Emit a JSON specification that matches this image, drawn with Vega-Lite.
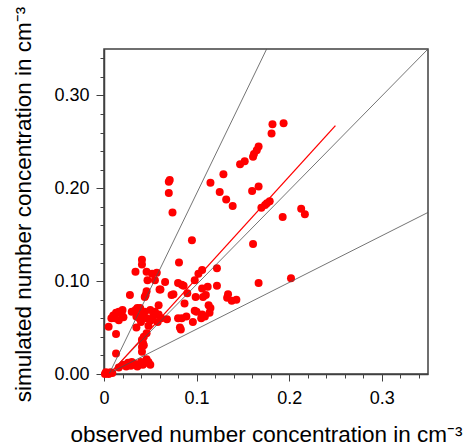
{
  "$schema": "https://vega.github.io/schema/vega-lite/v6.json",
  "autosize": {"type": "none"},
  "width": 324,
  "height": 325,
  "padding": {"left": 104, "top": 49, "right": 37, "bottom": 71},
  "background": "white",
  "config": {
    "font": "Liberation Sans",
    "view": {"stroke": "#404040", "strokeWidth": 1.5},
    "axis": {
      "domainColor": "#404040",
      "domainWidth": 1.5,
      "tickColor": "#404040",
      "tickWidth": 1,
      "grid": false,
      "labelOverlap": false,
      "labelFlush": false,
      "labelFont": "Liberation Sans",
      "labelFontSize": 18,
      "labelColor": "black",
      "titleFont": "Liberation Sans",
      "titleFontSize": 22.5,
      "titleFontWeight": "normal",
      "titleColor": "black"
    }
  },
  "datasets": {
    "pts": [
      {"obs": 0.182, "sim": 0.269}, {"obs": 0.194, "sim": 0.270}, {"obs": 0.181, "sim": 0.259},
      {"obs": 0.167, "sim": 0.245}, {"obs": 0.165, "sim": 0.241}, {"obs": 0.162, "sim": 0.237},
      {"obs": 0.161, "sim": 0.234}, {"obs": 0.152, "sim": 0.229}, {"obs": 0.147, "sim": 0.226},
      {"obs": 0.129, "sim": 0.215}, {"obs": 0.115, "sim": 0.206}, {"obs": 0.125, "sim": 0.196},
      {"obs": 0.132, "sim": 0.188}, {"obs": 0.139, "sim": 0.181}, {"obs": 0.160, "sim": 0.197},
      {"obs": 0.167, "sim": 0.202}, {"obs": 0.170, "sim": 0.179}, {"obs": 0.174, "sim": 0.182},
      {"obs": 0.176, "sim": 0.184}, {"obs": 0.179, "sim": 0.186}, {"obs": 0.193, "sim": 0.169},
      {"obs": 0.213, "sim": 0.178}, {"obs": 0.217, "sim": 0.172}, {"obs": 0.161, "sim": 0.140},
      {"obs": 0.122, "sim": 0.114}, {"obs": 0.070, "sim": 0.207}, {"obs": 0.071, "sim": 0.209},
      {"obs": 0.070, "sim": 0.195}, {"obs": 0.074, "sim": 0.174}, {"obs": 0.095, "sim": 0.144},
      {"obs": 0.081, "sim": 0.120}, {"obs": 0.041, "sim": 0.123}, {"obs": 0.041, "sim": 0.118},
      {"obs": 0.167, "sim": 0.098}, {"obs": 0.202, "sim": 0.103},
      {"obs": 0.112, "sim": 0.094}, {"obs": 0.122, "sim": 0.095}, {"obs": 0.106, "sim": 0.092},
      {"obs": 0.134, "sim": 0.086}, {"obs": 0.133, "sim": 0.082}, {"obs": 0.138, "sim": 0.079},
      {"obs": 0.143, "sim": 0.080}, {"obs": 0.113, "sim": 0.074}, {"obs": 0.115, "sim": 0.071},
      {"obs": 0.114, "sim": 0.066}, {"obs": 0.109, "sim": 0.062}, {"obs": 0.106, "sim": 0.064},
      {"obs": 0.106, "sim": 0.112}, {"obs": 0.107, "sim": 0.083}, {"obs": 0.102, "sim": 0.108},
      {"obs": 0.098, "sim": 0.101}, {"obs": 0.034, "sim": 0.110}, {"obs": 0.046, "sim": 0.110},
      {"obs": 0.052, "sim": 0.108}, {"obs": 0.057, "sim": 0.109}, {"obs": 0.047, "sim": 0.101},
      {"obs": 0.055, "sim": 0.101}, {"obs": 0.066, "sim": 0.099}, {"obs": 0.080, "sim": 0.098},
      {"obs": 0.084, "sim": 0.096}, {"obs": 0.086, "sim": 0.095}, {"obs": 0.060, "sim": 0.091},
      {"obs": 0.075, "sim": 0.086}, {"obs": 0.028, "sim": 0.085}, {"obs": 0.045, "sim": 0.085},
      {"obs": 0.046, "sim": 0.089}, {"obs": 0.044, "sim": 0.083}, {"obs": 0.061, "sim": 0.091},
      {"obs": 0.073, "sim": 0.085}, {"obs": 0.090, "sim": 0.087}, {"obs": 0.099, "sim": 0.083},
      {"obs": 0.110, "sim": 0.085}, {"obs": 0.087, "sim": 0.076}, {"obs": 0.059, "sim": 0.074},
      {"obs": 0.036, "sim": 0.071}, {"obs": 0.030, "sim": 0.067}, {"obs": 0.098, "sim": 0.068},
      {"obs": 0.100, "sim": 0.067}, {"obs": 0.080, "sim": 0.060}, {"obs": 0.084, "sim": 0.060},
      {"obs": 0.089, "sim": 0.062}, {"obs": 0.096, "sim": 0.056}, {"obs": 0.068, "sim": 0.059},
      {"obs": 0.083, "sim": 0.048}, {"obs": 0.082, "sim": 0.050}, {"obs": 0.105, "sim": 0.060},
      {"obs": 0.010, "sim": 0.063}, {"obs": 0.013, "sim": 0.066}, {"obs": 0.016, "sim": 0.067},
      {"obs": 0.019, "sim": 0.065}, {"obs": 0.021, "sim": 0.061}, {"obs": 0.012, "sim": 0.060},
      {"obs": 0.016, "sim": 0.058}, {"obs": 0.020, "sim": 0.069}, {"obs": 0.008, "sim": 0.060},
      {"obs": 0.005, "sim": 0.051}, {"obs": 0.013, "sim": 0.043},
      {"obs": 0.034, "sim": 0.069}, {"obs": 0.039, "sim": 0.071}, {"obs": 0.044, "sim": 0.067},
      {"obs": 0.050, "sim": 0.069}, {"obs": 0.055, "sim": 0.067}, {"obs": 0.059, "sim": 0.064},
      {"obs": 0.035, "sim": 0.062}, {"obs": 0.046, "sim": 0.060}, {"obs": 0.051, "sim": 0.058},
      {"obs": 0.040, "sim": 0.056}, {"obs": 0.058, "sim": 0.056}, {"obs": 0.048, "sim": 0.052},
      {"obs": 0.035, "sim": 0.050}, {"obs": 0.041, "sim": 0.064}, {"obs": 0.053, "sim": 0.062},
      {"obs": 0.062, "sim": 0.060}, {"obs": 0.038, "sim": 0.060},
      {"obs": 0.046, "sim": 0.044}, {"obs": 0.043, "sim": 0.040}, {"obs": 0.041, "sim": 0.037},
      {"obs": 0.043, "sim": 0.031}, {"obs": 0.041, "sim": 0.029}, {"obs": 0.041, "sim": 0.024},
      {"obs": 0.042, "sim": 0.034},
      {"obs": 0.013, "sim": 0.022}, {"obs": 0.021, "sim": 0.010}, {"obs": 0.026, "sim": 0.012},
      {"obs": 0.029, "sim": 0.009}, {"obs": 0.033, "sim": 0.011}, {"obs": 0.036, "sim": 0.008},
      {"obs": 0.040, "sim": 0.013}, {"obs": 0.042, "sim": 0.010}, {"obs": 0.045, "sim": 0.012},
      {"obs": 0.048, "sim": 0.013}, {"obs": 0.050, "sim": 0.010}, {"obs": 0.030, "sim": 0.013},
      {"obs": 0.038, "sim": 0.010}, {"obs": 0.016, "sim": 0.007}, {"obs": 0.046, "sim": 0.016},
      {"obs": 0.024, "sim": 0.008},
      {"obs": 0.001, "sim": 0.000}, {"obs": 0.003, "sim": 0.001}, {"obs": 0.005, "sim": 0.000},
      {"obs": 0.007, "sim": 0.002}, {"obs": 0.009, "sim": 0.001}, {"obs": 0.002, "sim": 0.002}
    ],
    "refs": [
      {"g": "1:1", "obs": 0.006, "sim": 0.001}, {"g": "1:1", "obs": 0.35, "sim": 0.35},
      {"g": "2:1", "obs": 0.006, "sim": 0.001}, {"g": "2:1", "obs": 0.1757, "sim": 0.35},
      {"g": "1:2", "obs": 0.006, "sim": 0.001}, {"g": "1:2", "obs": 0.35, "sim": 0.174}
    ],
    "fit": [
      {"obs": 0.007, "sim": 0.001}, {"obs": 0.25, "sim": 0.2675}
    ]
  },
  "encoding": {
    "x": {
      "field": "obs", "type": "quantitative",
      "scale": {"domain": [0, 0.35], "nice": false, "zero": false},
      "axis": {
        "title": "observed number concentration in cm⁻³",
        "values": [0, 0.02, 0.04, 0.06, 0.08, 0.1, 0.12, 0.14, 0.16, 0.18, 0.2, 0.22, 0.24, 0.26, 0.28, 0.3, 0.32, 0.34],
        "labelExpr": "abs(datum.value) < 0.0001 ? '0' : (abs(datum.value - 0.1) < 0.0001 ? '0.1' : (abs(datum.value - 0.2) < 0.0001 ? '0.2' : (abs(datum.value - 0.3) < 0.0001 ? '0.3' : '')))",
        "tickSize": {"condition": {"test": "abs(datum.value) < 0.0001 || abs(datum.value - 0.1) < 0.0001 || abs(datum.value - 0.2) < 0.0001 || abs(datum.value - 0.3) < 0.0001", "value": 7}, "value": 4},
        "labelPadding": 8,
        "labelFlush": false,
        "labelOverlap": false,
        "titlePadding": 16
      }
    },
    "y": {
      "field": "sim", "type": "quantitative",
      "scale": {"domain": [0, 0.35], "nice": false, "zero": false},
      "axis": {
        "title": "simulated number concentration in cm⁻³",
        "values": [0, 0.02, 0.04, 0.06, 0.08, 0.1, 0.12, 0.14, 0.16, 0.18, 0.2, 0.22, 0.24, 0.26, 0.28, 0.3, 0.32, 0.34],
        "labelExpr": "abs(datum.value) < 0.0001 ? '0.00' : (abs(datum.value - 0.1) < 0.0001 ? '0.10' : (abs(datum.value - 0.2) < 0.0001 ? '0.20' : (abs(datum.value - 0.3) < 0.0001 ? '0.30' : '')))",
        "tickSize": {"condition": {"test": "abs(datum.value) < 0.0001 || abs(datum.value - 0.1) < 0.0001 || abs(datum.value - 0.2) < 0.0001 || abs(datum.value - 0.3) < 0.0001", "value": 8}, "value": 4},
        "labelPadding": 7,
        "labelFlush": false,
        "labelOverlap": false,
        "titlePadding": 18,
        "titleY": 155
      }
    }
  },
  "layer": [
    {
      "data": {"name": "pts"},
      "mark": {"type": "circle", "color": "#ff0000", "opacity": 1, "size": 64}
    },
    {
      "data": {"name": "refs"},
      "mark": {"type": "line", "color": "#505050", "strokeWidth": 0.8},
      "encoding": {
        "detail": {"field": "g"}
      }
    },
    {
      "data": {"name": "fit"},
      "mark": {"type": "line", "color": "#ff0000", "strokeWidth": 1.3},
      "encoding": {}
    }
  ]
}
